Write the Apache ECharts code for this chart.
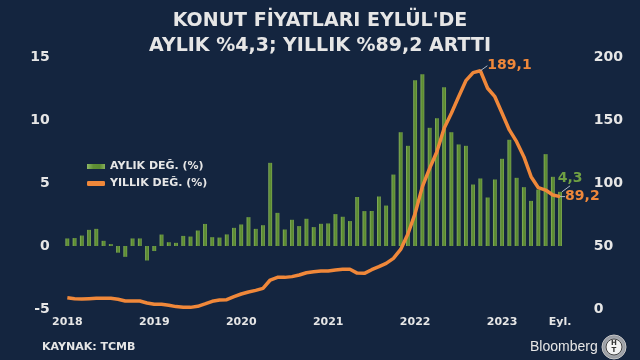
<!DOCTYPE html>
<html><head><meta charset="utf-8">
<script src="https://cdn.jsdelivr.net/npm/echarts@6/dist/echarts.min.js"></script>
<style>html,body{margin:0;padding:0;background:#14253f}#c{width:640px;height:360px}</style>
</head><body><div id="c"></div>
<script>
// Months Jan 2018 .. Sep 2023
const months = [];
for (let y = 2018; y <= 2023; y++) for (let m = 1; m <= 12; m++) { if (y === 2023 && m > 9) break; months.push(y + '-' + m); }
const yearLabels = {'2018-1':'2018','2019-1':'2019','2020-1':'2020','2021-1':'2021','2022-1':'2022','2023-1':'2023','2023-9':'Eyl.'};
// Monthly change (%)
const monthly = [
 0.6,0.63,0.83,1.28,1.36,0.41,0.15,-0.53,-0.86,0.6,0.6,-1.15,
 -0.4,0.91,0.3,0.25,0.8,0.75,1.23,1.75,0.7,0.67,0.92,1.44,
 1.71,2.29,1.36,1.65,6.6,2.63,1.31,2.08,1.58,2.16,1.5,1.76,
 1.79,2.53,2.32,1.98,3.89,2.77,2.78,3.93,3.21,5.67,9.03,7.95,
 13.16,13.64,9.38,10.14,12.6,9.03,8.06,7.95,4.88,5.36,3.85,5.28,
 6.92,8.43,5.41,4.67,3.58,4.48,7.29,5.49,4.3
];
// Yearly change (%)
const yearly = [
 9.0,8.2,7.9,8.2,8.5,8.5,8.5,7.7,6.3,6.3,6.3,4.8,
 3.7,3.7,2.9,1.9,1.3,1.3,2.1,4.0,6.1,7.1,7.4,9.8,
 11.9,13.5,14.8,16.4,23.0,25.1,25.1,25.7,27.0,28.8,29.6,30.2,
 30.2,31.0,31.5,31.5,28.5,28.3,31.2,33.6,36.2,40.2,47.3,59.5,
 75.9,97.1,111.6,124.8,143.4,155.3,168.5,181.2,187.6,189.1,175.2,168.5,
 155.3,142.1,132.8,120.9,105.0,96.3,94.4,90.5,89.2
];
const leftTicks = [-5, 0, 5, 10, 15];
const rightTicks = [0, 50, 100, 150, 200];
const fmt = v => String(v).replace('.', ',');
const peakIdx = yearly.indexOf(Math.max(...yearly));
const lastIdx = yearly.length - 1;

const FONT = 'DejaVu Sans';
const barColor = new echarts.graphic.LinearGradient(0,0,1,0,[
  {offset:0,color:'#8fb865'},{offset:0.35,color:'#5f8f35'},{offset:0.7,color:'#5a8a30'},{offset:1,color:'#88b05c'}]);
const lblStyle = {color: '#f0883a', fontSize: 14, fontWeight: 'bold', fontFamily: FONT};

const chart = echarts.init(document.getElementById('c'));
chart.setOption({
  backgroundColor: '#14253f',
  animation: false,
  textStyle: {fontFamily: FONT},
  title: {
    text: "KONUT FİYATLARI EYLÜL'DE\nAYLIK %4,3; YILLIK %89,2 ARTTI",
    left: 'center', top: 4,
    textStyle: {color: '#e6e6e6', fontSize: 19, fontWeight: 'bold', fontFamily: FONT, lineHeight: 25}
  },
  legend: {
    orient: 'vertical', left: 82, top: 156, itemGap: 6, itemWidth: 18, itemHeight: 5,
    textStyle: {color: '#e6e6e6', fontSize: 11, fontWeight: 'bold', fontFamily: FONT},
    data: [
      {name: 'AYLIK DEĞ. (%)', icon: 'rect'},
      {name: 'YILLIK DEĞ. (%)', icon: 'roundRect', itemStyle: {color: '#f0883a'}}
    ]
  },
  grid: {left: 63.7, right: 76.3, top: 57, bottom: 51},
  xAxis: {
    type: 'category', data: months, boundaryGap: true,
    axisLine: {show: false}, axisTick: {show: false},
    axisLabel: {
      interval: 0, color: '#e6e6e6', fontSize: 11, fontWeight: 'bold', margin: 8,
      formatter: v => yearLabels[v] || ''
    }
  },
  yAxis: [
    {type: 'value', min: leftTicks[0], max: leftTicks[leftTicks.length-1], interval: 5,
     splitLine: {show: false}, axisLine: {show: false}, axisTick: {show: false},
     axisLabel: {color: '#e6e6e6', fontSize: 14, fontWeight: 'bold', margin: 14}},
    {type: 'value', min: rightTicks[0], max: rightTicks[rightTicks.length-1], interval: 50,
     splitLine: {show: false}, axisLine: {show: false}, axisTick: {show: false},
     axisLabel: {color: '#e6e6e6', fontSize: 14, fontWeight: 'bold', margin: 30, align: 'left'}}
  ],
  series: [
    {
      name: 'AYLIK DEĞ. (%)', type: 'bar', yAxisIndex: 0, barWidth: 3.8,
      itemStyle: {color: barColor},
      data: monthly.map((v, i) => i === lastIdx ? {value: v, label: {
        show: true, position: 'top', distance: 2, formatter: fmt(v),
        color: '#6fa043', fontSize: 14, fontWeight: 'bold'}} : v),
      labelLine: {show: true, lineStyle: {color: '#b0b8c4', width: 1}},
      labelLayout: p => p.dataIndex === lastIdx ? {dx: 10, dy: -4} : {}
    },
    {
      name: 'YILLIK DEĞ. (%)', type: 'line', yAxisIndex: 1, showSymbol: true, symbol: 'circle', symbolSize: 0,
      lineStyle: {color: '#f0883a', width: 3.5}, itemStyle: {color: '#f0883a'},
      z: 5,
      labelLine: {show: true, lineStyle: {color: '#b0b8c4', width: 1}},
      labelLayout: p => p.dataIndex === peakIdx ? {dx: 5, dy: -5} : {},
      data: yearly.map((v, i) => {
        if (i === peakIdx) return {value: v, label: Object.assign({show: true, position: 'right', distance: 2, formatter: fmt(v)}, lblStyle)};
        if (i === lastIdx) return {value: v, label: Object.assign({show: true, position: 'right', distance: 5, offset: [0, 2], formatter: fmt(v)}, lblStyle)};
        return v;
      })
    }
  ],
  graphic: [
    {type: 'text', left: 42, top: 342, style: {text: 'KAYNAK: TCMB', fill: '#e6e6e6', font: 'bold 11px "DejaVu Sans"'}},
    {type: 'text', left: 530, top: 340, style: {text: 'Bloomberg', fill: '#e6e6e6', font: '14px "Liberation Sans"'}},
    {type: 'circle', shape: {cx: 614, cy: 347, r: 12}, style: {fill: new echarts.graphic.RadialGradient(0.5,0.5,0.6,[{offset:0,color:'#e8e8e8'},{offset:1,color:'#7a7f88'}]), stroke: '#c8c8c8', lineWidth: 1}},
    {type: 'circle', shape: {cx: 614, cy: 347, r: 8}, style: {fill: '#f2f2f2', stroke: '#444', lineWidth: 1}},
    {type: 'text', x: 614, y: 347, style: {text: 'H\nT', fill: '#333', font: 'bold 7px "DejaVu Sans"', align: 'center', verticalAlign: 'middle', lineHeight: 7}}
  ]
});
</script></body></html>
